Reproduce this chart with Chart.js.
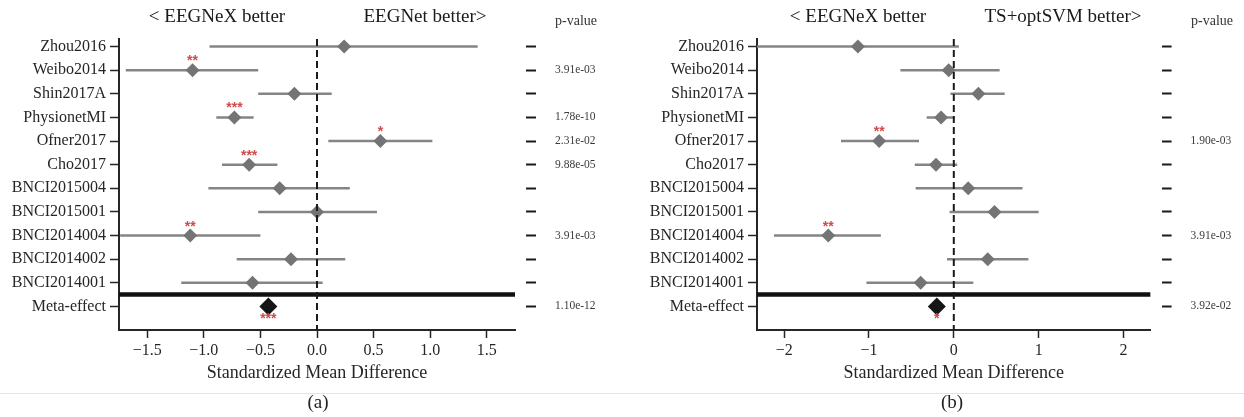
<!DOCTYPE html>
<html>
<head>
<meta charset="utf-8">
<script src="https://cdn.jsdelivr.net/npm/chart.js@4.4.1/dist/chart.umd.min.js"></script>
<style>
  body { margin: 0; background: #fff; width: 1244px; height: 417px; position: relative; overflow: hidden; font-family: "Liberation Serif", serif; }
  .panel { position: absolute; top: 0; width: 622px; height: 392px; }
  #pa { left: 0; }
  #pb { left: 622px; }
  .rule { position: absolute; left: 0; top: 393px; width: 1244px; border-top: 1px solid #e4e4e4; }
  .cap { position: absolute; top: 391px; font-size: 19px; line-height: 22px; color: #222; transform: translateX(-50%); }
</style>
</head>
<body>
<div class="panel" id="pa"><canvas id="chartA"></canvas></div>
<div class="panel" id="pb"><canvas id="chartB"></canvas></div>
<div class="rule"></div>
<div class="cap" style="left:318px">(a)</div>
<div class="cap" style="left:952px">(b)</div>
<script>
// rows, top to bottom
const studies = ['Zhou2016', 'Weibo2014', 'Shin2017A', 'PhysionetMI', 'Ofner2017', 'Cho2017',
  'BNCI2015004', 'BNCI2015001', 'BNCI2014004', 'BNCI2014002', 'BNCI2014001', 'Meta-effect'];

// (a) EEGNeX vs EEGNet
const smdA = [0.24, -1.10, -0.20, -0.73, 0.56, -0.60, -0.33, 0.00, -1.12, -0.23, -0.57, -0.43];
const lowA = [-0.95, -1.69, -0.52, -0.89, 0.10, -0.84, -0.96, -0.52, -1.74, -0.71, -1.20, null];
const highA = [1.42, -0.52, 0.13, -0.56, 1.02, -0.35, 0.29, 0.53, -0.50, 0.25, 0.05, null];
const pvalA = ['', '3.91e-03', '', '1.78e-10', '2.31e-02', '9.88e-05', '', '', '3.91e-03', '', '', '1.10e-12'];
const starsA = ['', '**', '', '***', '*', '***', '', '', '**', '', '', '***'];
const ticksA = [-1.5, -1.0, -0.5, 0.0, 0.5, 1.0, 1.5];

// (b) EEGNeX vs TS+optSVM
const smdB = [-1.13, -0.06, 0.29, -0.15, -0.88, -0.21, 0.17, 0.48, -1.48, 0.40, -0.39, -0.20];
const lowB = [-2.32, -0.63, -0.04, -0.32, -1.33, -0.46, -0.45, -0.05, -2.12, -0.08, -1.03, null];
const highB = [0.06, 0.54, 0.60, 0.01, -0.41, 0.04, 0.81, 1.00, -0.86, 0.88, 0.23, null];
const pvalB = ['', '', '', '', '1.90e-03', '', '', '', '3.91e-03', '', '', '3.92e-02'];
const starsB = ['', '', '', '', '**', '', '', '', '**', '', '', '*'];
const ticksB = [-2, -1, 0, 1, 2];

const META = studies.length - 1;
const serif = '"Liberation Serif", "Times New Roman", serif';

const headerPlugin = {
  id: 'headers',
  afterDraw(chart, args, opts) {
    const ctx = chart.ctx;
    ctx.save();
    ctx.textAlign = 'center';
    ctx.textBaseline = 'middle';
    ctx.fillStyle = '#1a1a1a';
    ctx.font = '19px ' + serif;
    ctx.fillText(opts.left, opts.leftX, 17);
    ctx.fillText(opts.right, opts.rightX, 17);
    ctx.fillStyle = '#333';
    ctx.font = '14px ' + serif;
    ctx.fillText('p-value', opts.pX, 21);
    ctx.restore();
  }
};

const starPlugin = {
  id: 'stars',
  afterDatasetsDraw(chart, args, opts) {
    const ctx = chart.ctx;
    const xs = chart.scales.x, ys = chart.scales.y;
    ctx.save();
    ctx.textAlign = 'center';
    ctx.textBaseline = 'alphabetic';
    ctx.fillStyle = '#d24b4b';
    ctx.font = 'bold 14px "Liberation Sans", sans-serif';
    opts.stars.forEach((s, i) => {
      if (!s) return;
      const x = xs.getPixelForValue(opts.smd[i]);
      const y = ys.getPixelForValue(i);
      ctx.fillText(s, x, i === META ? y + 17 : y - 5);
    });
    ctx.restore();
  }
};

const fmt = (digits) => (v) => (v < 0 ? '\u2212' : '') + Math.abs(v).toFixed(digits);

const buildChart = (id, smd, low, high, pvals, stars, xTicks, xLim, digits, leftW, rightW, head) => {
  const rowTicks = (scale) => { scale.ticks = studies.map((_, i) => ({ value: i })); };
  const datasets = [];

  // zero reference line and meta separator on top
  datasets.push({
    data: [{ x: 0, y: -0.32 }, { x: 0, y: 12 }],
    showLine: true, borderColor: '#1a1a1a', borderWidth: 2, borderDash: [7, 4],
    pointRadius: 0, order: 0
  });
  datasets.push({
    data: [{ x: -xLim, y: 10.5 }, { x: xLim, y: 10.5 }],
    showLine: true, borderColor: '#111', borderWidth: 4.5,
    pointRadius: 0, order: 0
  });
  // study diamonds
  datasets.push({
    data: smd.slice(0, META).map((v, i) => ({ x: v, y: i })),
    pointStyle: 'rectRot', pointRadius: 7, backgroundColor: '#747474', borderWidth: 0, order: 1
  });
  // meta-effect diamond
  datasets.push({
    data: [{ x: smd[META], y: META }],
    pointStyle: 'rectRot', pointRadius: 9, backgroundColor: '#151515', borderWidth: 0, order: 1
  });
  // confidence intervals
  low.forEach((lo, i) => {
    if (lo === null) return;
    datasets.push({
      data: [{ x: lo, y: i }, { x: high[i], y: i }],
      showLine: true, borderColor: '#858585', borderWidth: 2.5, pointRadius: 0, order: 2
    });
  });

  const tickFont = { family: serif, size: 16 };

  return new Chart(document.getElementById(id), {
    type: 'scatter',
    data: { datasets },
    options: {
      responsive: true,
      maintainAspectRatio: false,
      animation: false,
      events: [],
      layout: { padding: { top: 39, left: 0, right: 0, bottom: 0 } },
      plugins: {
        legend: { display: false },
        tooltip: { enabled: false },
        headers: head,
        stars: { stars, smd }
      },
      scales: {
        x: {
          type: 'linear', min: -xLim, max: xLim,
          afterBuildTicks: (scale) => { scale.ticks = xTicks.map(v => ({ value: v })); },
          afterFit: (scale) => { scale.height = 62; },
          ticks: { callback: fmt(digits), font: tickFont, color: '#262626', padding: 3, maxRotation: 0 },
          grid: { display: true, drawOnChartArea: false, drawTicks: true, tickLength: 8, tickColor: '#262626', tickWidth: 1.5 },
          border: { display: true, color: '#262626', width: 2 },
          title: { display: true, text: 'Standardized Mean Difference', font: { family: serif, size: 18 }, color: '#262626', padding: { top: 4, bottom: 8 } }
        },
        y: {
          type: 'linear', position: 'left', reverse: true, min: -0.32, max: 12,
          afterBuildTicks: rowTicks,
          afterFit: (scale) => { scale.width = leftW; },
          ticks: { autoSkip: false, callback: (v, i) => studies[i], font: tickFont, color: '#262626', padding: 4 },
          grid: { display: true, drawOnChartArea: false, drawTicks: true, tickLength: 9, tickColor: '#262626', tickWidth: 1.5 },
          border: { display: true, color: '#262626', width: 2 }
        },
        yp: {
          type: 'linear', position: 'right', reverse: true, min: -0.32, max: 12,
          afterBuildTicks: rowTicks,
          afterFit: (scale) => { scale.width = rightW; },
          ticks: { autoSkip: false, callback: (v, i) => pvals[i], font: { family: serif, size: 11.5 }, color: '#3a3a3a', padding: 19 },
          grid: { display: true, drawOnChartArea: false, drawTicks: true, tickLength: 21, tickColor: '#1a1a1a', tickWidth: 2, tickBorderDash: [0, 11, 10, 60] },
          border: { display: false }
        }
      }
    },
    plugins: [headerPlugin, starPlugin]
  });
};

window.onload = () => {
  buildChart('chartA', smdA, lowA, highA, pvalA, starsA, ticksA, 1.75, 1, 119, 107,
    { left: '< EEGNeX better', right: 'EEGNet better>', leftX: 217, rightX: 425, pX: 576 });
  buildChart('chartB', smdB, lowB, highB, pvalB, starsB, ticksB, 2.32, 0, 135, 93.4,
    { left: '< EEGNeX better', right: 'TS+optSVM better>', leftX: 236, rightX: 441, pX: 590 });
};
</script>
</body>
</html>
